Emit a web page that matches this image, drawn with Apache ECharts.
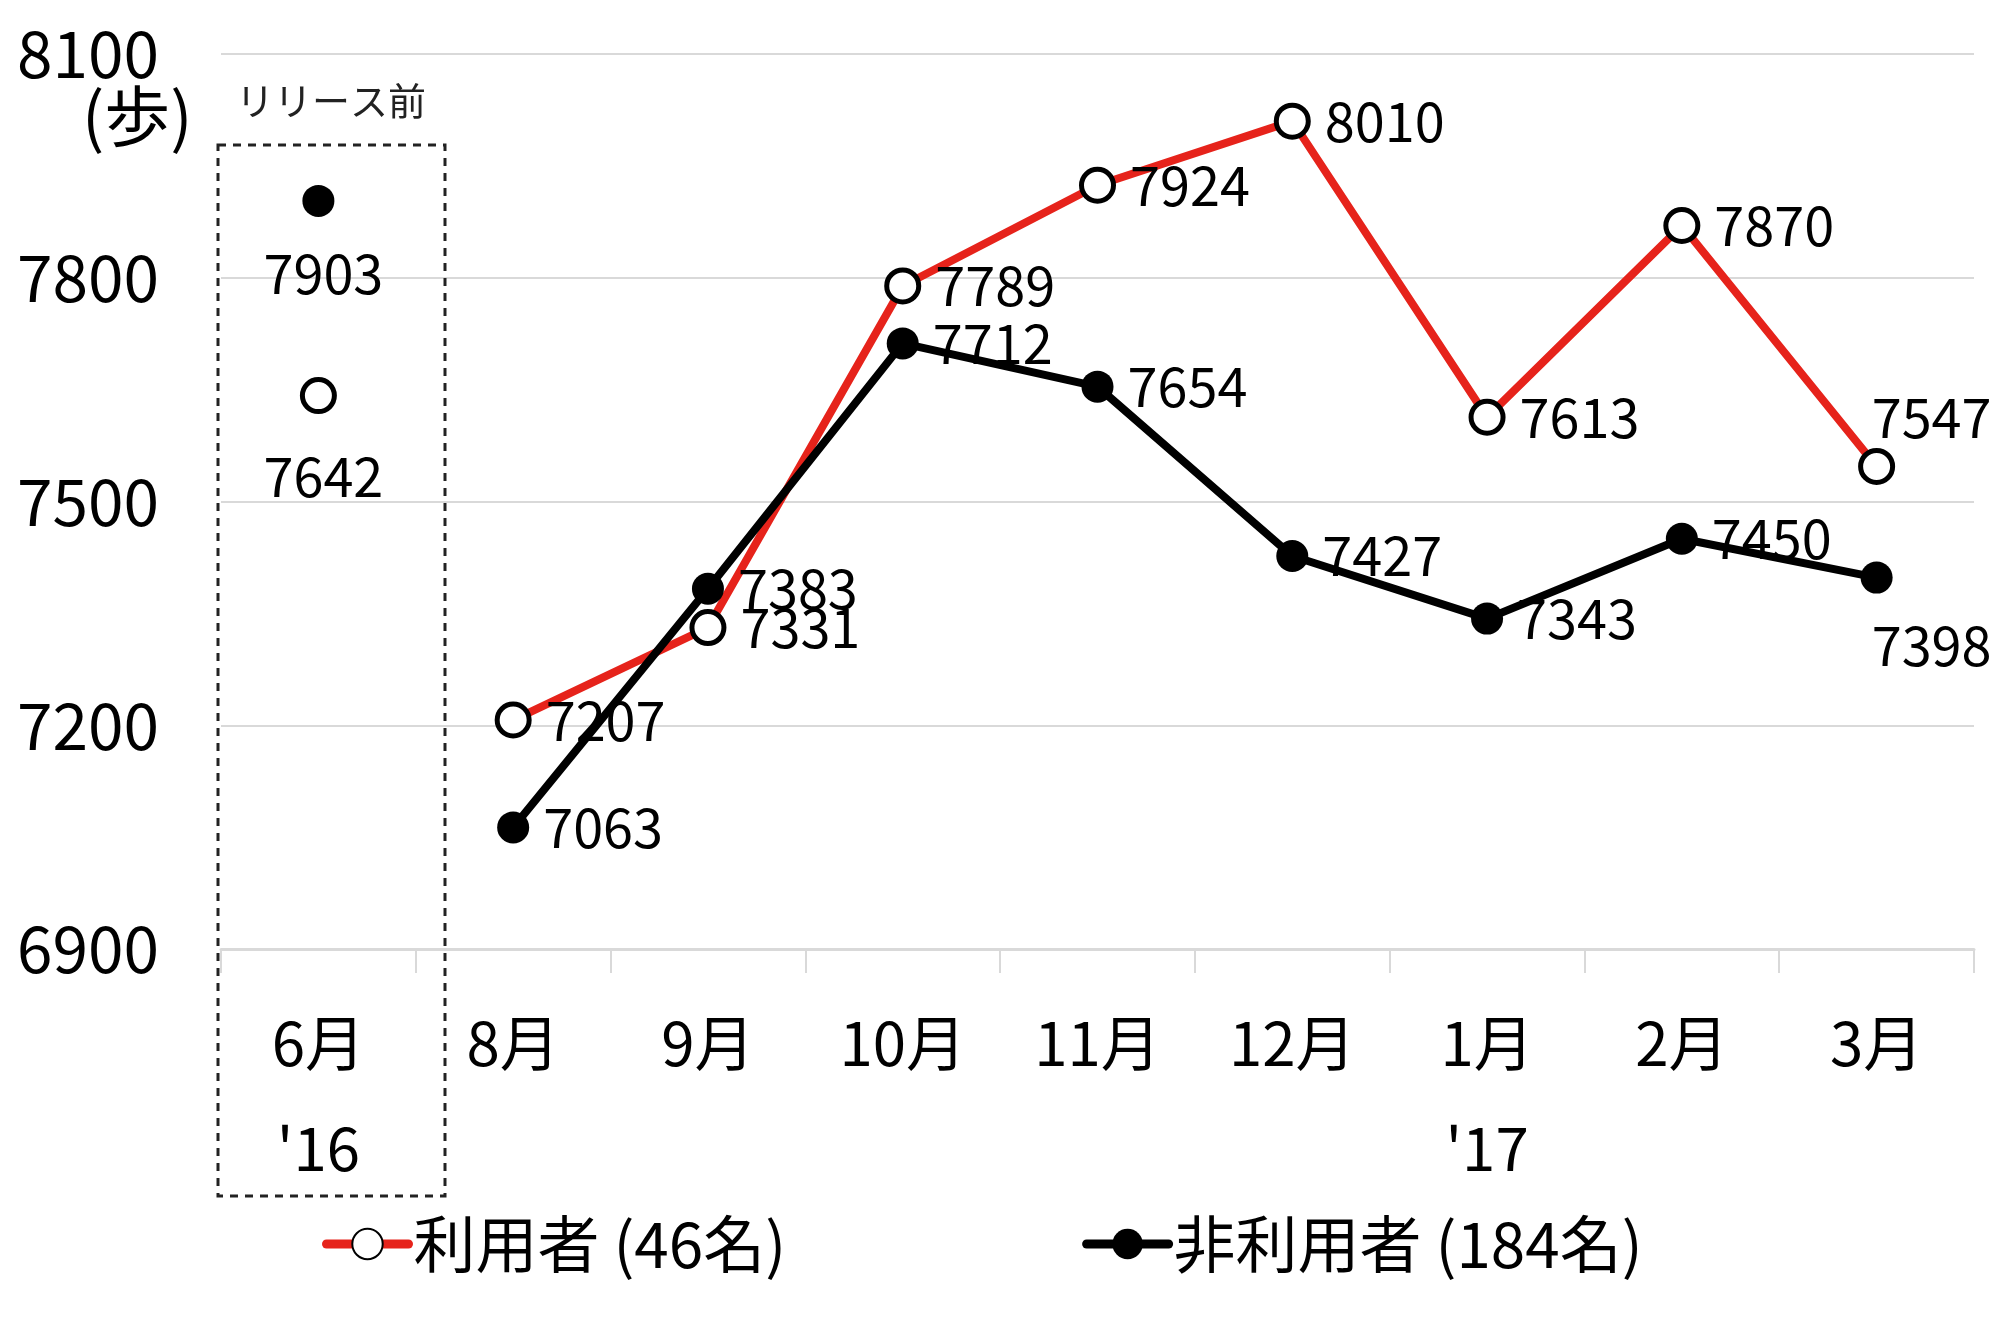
<!DOCTYPE html>
<html style="height: 100%">
<head>
    <meta charset="utf-8">
</head>
<body style="height: 100%; margin: 0; background: #fff">
<div id="container" style="width: 2001px; height: 1334px"></div>
<script type="text/javascript" src="https://cdn.jsdelivr.net/npm/echarts@6/dist/echarts.min.js"></script>
<script type="text/javascript">
    // data
    var months = ['6月', '8月', '9月', '10月', '11月', '12月', '1月', '2月', '3月'];
    var yearMarks = {0: "'16", 6: "'17"};
    var users = [7642, 7207, 7331, 7789, 7924, 8010, 7613, 7870, 7547];
    var nonUsers = [7903, 7063, 7383, 7712, 7654, 7427, 7343, 7450, 7398];
    var yMin = 6900, yMax = 8100, yStep = 300;
    var names = ['利用者 (46名)', '非利用者 (184名)'];

    var red = '#e6231b';
    var font = '"Noto Sans CJK JP", "Noto Sans", sans-serif';

    var chart = echarts.init(document.getElementById('container'));

    var baseLabel = {
        show: true,
        position: 'right',
        distance: 14,
        fontSize: 54,
        fontFamily: font,
        color: '#000',
        opacity: 1,
        textBorderWidth: 0
    };

    // the 6月 point stands alone, so the line starts at 8月
    function lineData(arr, lastLabel) {
        return arr.map(function (v, i) {
            if (i === 0) return '-';
            if (i === arr.length - 1) return {value: v, label: lastLabel};
            return v;
        });
    }

    var openItem = {color: '#fff', borderColor: '#000', borderWidth: 5, opacity: 1};
    var fillItem = {color: '#000', borderColor: '#000', borderWidth: 0, opacity: 1};

    var option = {
        animation: false,
        textStyle: {fontFamily: font},
        grid: {left: 221, right: 27, top: 54, bottom: 385},
        legend: {
            data: names,
            left: 317,
            top: 1208,
            itemWidth: 82,
            itemHeight: 38,
            itemGap: 296,
            lineStyle: {width: 9, cap: 'round'},
            textStyle: {fontSize: 62, fontFamily: font, color: '#000'}
        },
        xAxis: {
            type: 'category',
            data: months,
            axisLine: {lineStyle: {color: '#d9d9d9', width: 3}},
            axisTick: {show: true, length: 24, lineStyle: {color: '#d9d9d9', width: 2}},
            axisLabel: {
                fontSize: 60,
                fontFamily: font,
                color: '#000',
                margin: 42,
                lineHeight: 105,
                interval: 0,
                formatter: function (v, i) {
                    return yearMarks[i] ? v + '\n' + yearMarks[i] : v;
                }
            }
        },
        yAxis: {
            type: 'value',
            min: yMin,
            max: yMax,
            interval: yStep,
            axisLine: {show: false},
            axisTick: {show: false},
            splitLine: {lineStyle: {color: '#d9d9d9', width: 2}},
            axisLabel: {
                fontSize: 64,
                fontFamily: font,
                color: '#000',
                margin: 62,
                formatter: function (v) { return String(v); }
            }
        },
        series: [
            {
                name: names[0],
                type: 'line',
                symbol: 'circle',
                symbolSize: 32,
                lineStyle: {color: red, width: 8},
                itemStyle: openItem,
                label: baseLabel,
                data: lineData(users, {position: 'top', offset: [55, 11]}),
                z: 3
            },
            {
                name: names[1],
                type: 'line',
                symbol: 'circle',
                symbolSize: 32,
                lineStyle: {color: '#000', width: 8},
                itemStyle: fillItem,
                label: baseLabel,
                data: lineData(nonUsers, {position: 'bottom', offset: [55, 11]}),
                z: 4
            },
            {
                name: 'pre-users',
                type: 'scatter',
                symbol: 'circle',
                symbolSize: 32,
                itemStyle: openItem,
                label: Object.assign({}, baseLabel, {position: 'bottom', distance: 5, offset: [5, 30]}),
                data: [[months[0], users[0]]]
            },
            {
                name: 'pre-nonusers',
                type: 'scatter',
                symbol: 'circle',
                symbolSize: 32,
                itemStyle: fillItem,
                label: Object.assign({}, baseLabel, {position: 'bottom', distance: 5, offset: [5, 25]}),
                data: [[months[0], nonUsers[0]]]
            }
        ],
        graphic: [
            {
                type: 'rect',
                shape: {x: 218, y: 145, width: 227, height: 1051},
                style: {fill: 'none', stroke: '#222', lineWidth: 3, lineDash: [8, 7]},
                z: 1
            },
            {
                type: 'text',
                left: 236,
                top: 82,
                style: {text: 'リリース前', fontSize: 38, fontFamily: font, fill: '#222'}
            },
            {
                type: 'text',
                left: 82,
                top: 83,
                style: {text: '(歩)', fontSize: 66, fontFamily: font, fill: '#000'}
            }
        ]
    };

    chart.setOption(option);
</script>
</body>
</html>
